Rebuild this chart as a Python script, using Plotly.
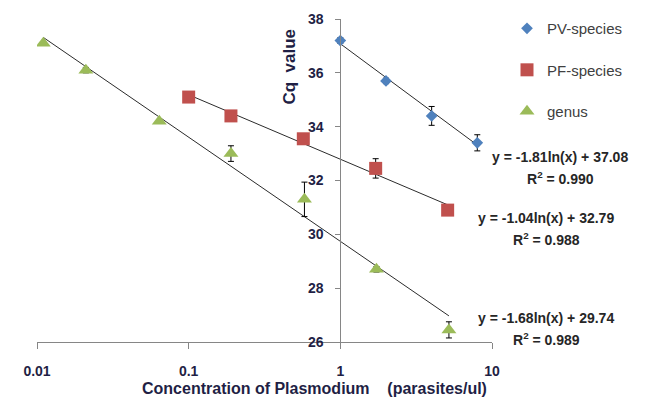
import numpy as np
import plotly.graph_objects as go

# ---- data -------------------------------------------------------------
pv_x = [1, 2, 4, 8]
pv_y = [37.2, 35.7, 34.4, 33.4]
pv_err = [0.1, 0.1, 0.35, 0.3]

pf_x = [0.1, 0.19, 0.57, 1.71, 5.1]
pf_y = [35.1, 34.4, 33.55, 32.45, 30.9]
pf_err = [0.1, 0.1, 0.1, 0.36, 0.1]

genus_x = [0.011, 0.021, 0.064, 0.19, 0.58, 1.73, 5.2]
genus_y = [37.1, 36.1, 34.2, 33.0, 31.3, 28.7, 26.45]
genus_err = [0.05, 0.1, 0.05, 0.29, 0.64, 0.1, 0.3]

# logarithmic trendlines  y = a*ln(x) + b, with R^2
fits = {
    "PV-species": (-1.81, 37.08, "0.990"),
    "PF-species": (-1.04, 32.79, "0.988"),
    "genus": (-1.68, 29.74, "0.989"),
}

x_ticks = [0.01, 0.1, 1, 10]
x_ticktext = ["0.01", "0.1", "1", "10"]
y_ticks = [26, 28, 30, 32, 34, 36, 38]

# ---- layout geometry (pixels) -----------------------------------------
W, H = 654, 398
L, R, T, B = 37, 162, 16, 56
PW, PH = W - L - R, H - T - B


def px(x):
    return (x - L) / PW


def py(y):
    return (H - B - y) / PH


AXIS_TXT = "#1F1F45"
EQ_TXT = "#262626"
FONT = "Liberation Sans, Arial, sans-serif"

series = [
    ("PV-species", pv_x, pv_y, pv_err, "diamond", 9, "#4F81BD"),
    ("PF-species", pf_x, pf_y, pf_err, "square", 13, "#C0504D"),
    ("genus", genus_x, genus_y, genus_err, "triangle-up", 13, "#9BBB59"),
]

fig = go.Figure()

for name, xs, ys, errs, sym, size, col in series:
    a, b, _ = fits[name]
    xl = np.array([min(xs), max(xs)])
    fig.add_trace(go.Scatter(
        x=xl, y=a * np.log(xl) + b, mode="lines",
        line=dict(color="#2b2b2b", width=1),
        showlegend=False, hoverinfo="skip",
    ))

for name, xs, ys, errs, sym, size, col in series:
    fig.add_trace(go.Scatter(
        x=xs, y=ys, mode="markers", name=name, legendgroup=name,
        marker=dict(symbol=sym, size=size, color=col, line=dict(width=0)),
        error_y=dict(type="data", array=errs, visible=True,
                     color="#000000", thickness=1, width=3),
    ))

fig.update_xaxes(
    type="log", range=[-2, 1], tickvals=x_ticks, ticktext=x_ticktext,
    showgrid=False, zeroline=False, showline=True, linecolor="#868686",
    linewidth=1, ticks="outside", ticklen=6, tickcolor="#868686",
    tickfont=dict(family=FONT, size=14, color=AXIS_TXT, weight="bold"),
    ticklabelstandoff=10,
)
fig.update_yaxes(
    range=[26, 38], tickvals=y_ticks, anchor="free", position=2 / 3,
    showgrid=False, zeroline=False, showline=True, linecolor="#868686",
    linewidth=1, ticks="outside", ticklen=5, tickcolor="#868686",
    tickfont=dict(family=FONT, size=14, color=AXIS_TXT, weight="bold"),
    ticklabelstandoff=9,
)


def note(x, y, text, size, color, **kw):
    return dict(
        x=px(x), y=py(y), xref="paper", yref="paper", text=text,
        xanchor="center", yanchor="middle", showarrow=False,
        font=dict(family=FONT, size=size, color=color, weight="bold"), **kw,
    )


annotations = [
    note(290, 64, "Cq\u00a0\u00a0value", 17, AXIS_TXT, textangle=-90),
    note(314, 389, "Concentration of Plasmodium\u00a0\u00a0\u00a0 (parasites/ul)",
         16, AXIS_TXT),
]

# trendline equations
eq_pos = {"PV-species": (560, 155), "PF-species": (546, 217), "genus": (546, 318)}
for name, (cx, cy) in eq_pos.items():
    a, b, r2 = fits[name]
    annotations.append(note(cx, cy, f"y = {a:.2f}ln(x) + {b:.2f}", 14, EQ_TXT))
    annotations.append(note(cx, cy + 21, f"R<sup>2</sup> = {r2}", 14, EQ_TXT))

fig.update_layout(
    width=W, height=H,
    margin=dict(l=L, r=R, t=T, b=B),
    paper_bgcolor="white", plot_bgcolor="white",
    annotations=annotations,
    legend=dict(
        x=px(507), y=py(9), xanchor="left", yanchor="top",
        font=dict(family=FONT, size=15, color="#404040"),
        tracegroupgap=19, bgcolor="rgba(0,0,0,0)",
    ),
)

fig.write_html("out.html")
